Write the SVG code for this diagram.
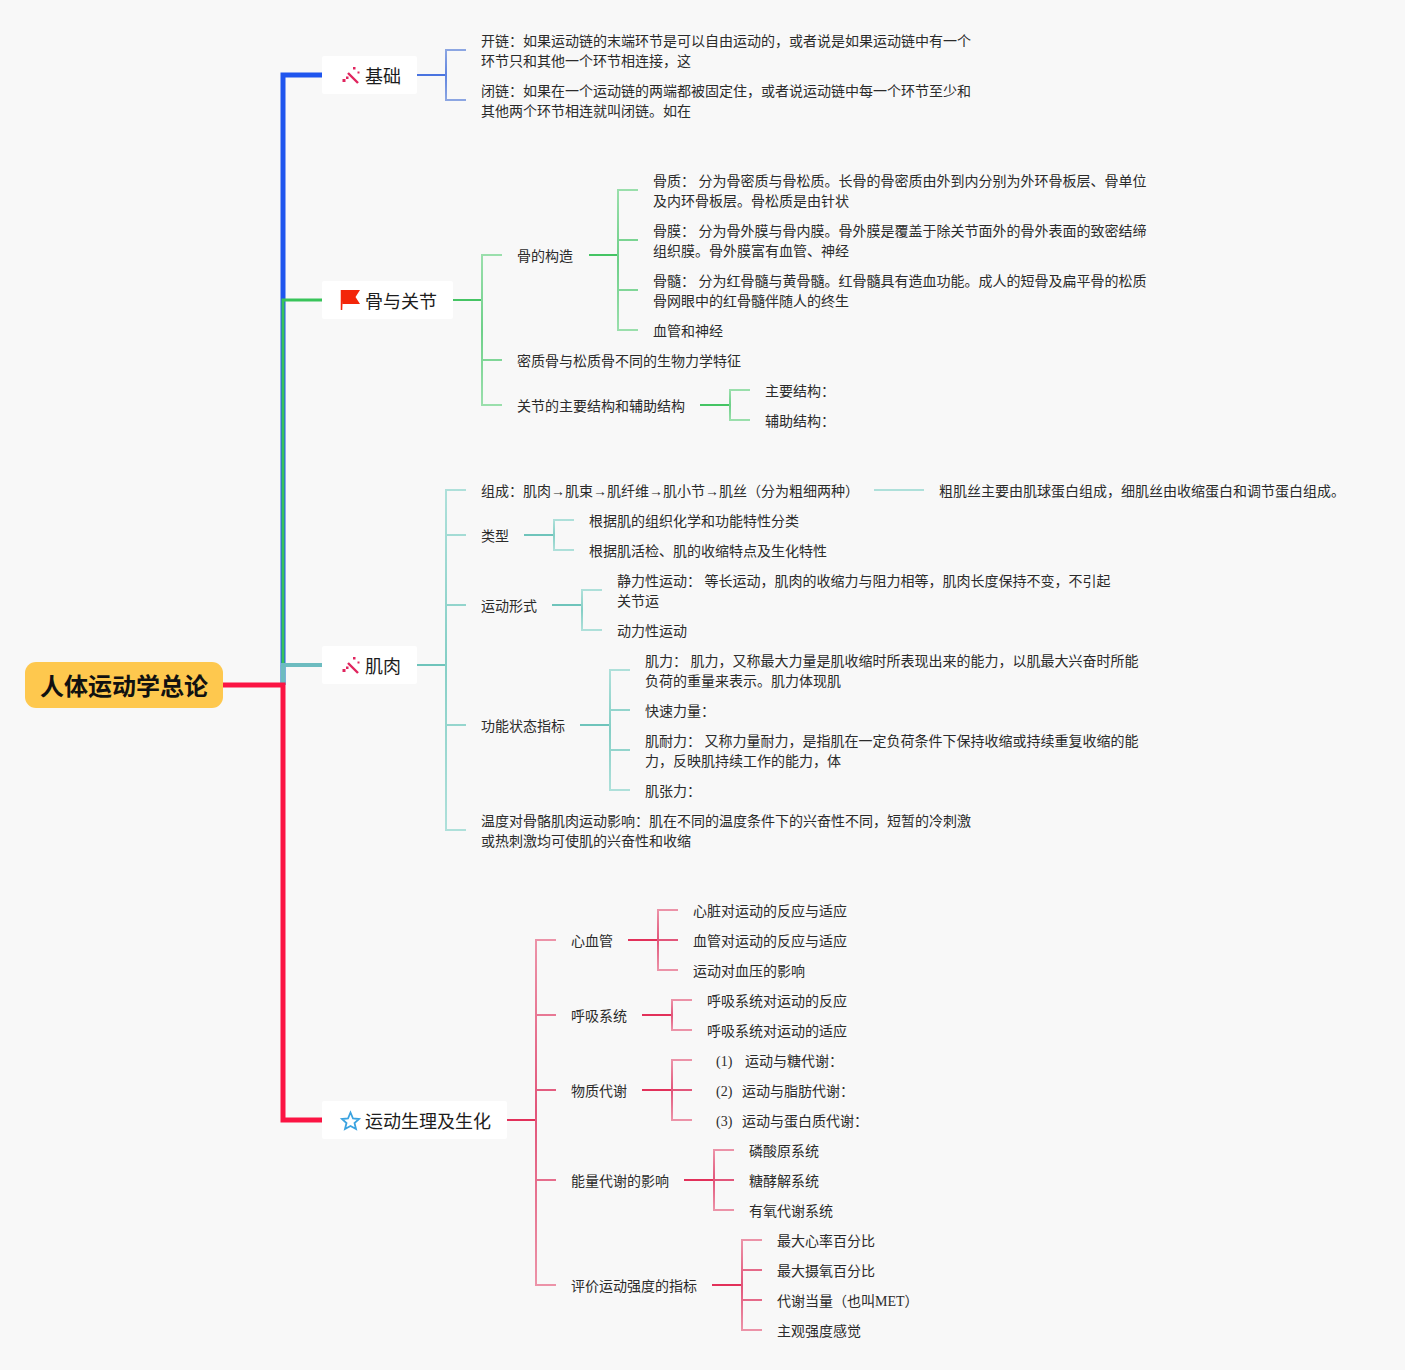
<svg xmlns="http://www.w3.org/2000/svg" width="1405" height="1370" viewBox="0 0 1405 1370">
<style>
text{font-family:"Liberation Serif","Noto Sans CJK SC",serif;font-size:14px;fill:#2b2b2b}
.t{font-family:"Liberation Sans","Noto Sans CJK SC",sans-serif;font-size:18px;fill:#1c1c1c}
.r{font-family:"Liberation Sans","Noto Sans CJK SC",sans-serif;font-size:24px;font-weight:700;fill:#111}
.box{fill:#fff}
path{fill:none}
.bl{stroke:#4a74e0;stroke-width:2}.bl2{stroke:url(#gb);stroke-width:2}
.gr{stroke:#45c464;stroke-width:2}.gr2{stroke:url(#gg);stroke-width:2}
.te{stroke:#6fc4bb;stroke-width:2}.te2{stroke:url(#gt);stroke-width:2}
.re{stroke:#e2315a;stroke-width:2}.re2{stroke:url(#gr);stroke-width:2}
</style>
<defs>
<linearGradient id="gb" x1="0" y1="0" x2="0" y2="1"><stop offset="0" stop-color="#8ca6e2"/><stop offset=".5" stop-color="#5f84e0"/><stop offset="1" stop-color="#8ca6e2"/></linearGradient>
<linearGradient id="gg" x1="0" y1="0" x2="0" y2="1"><stop offset="0" stop-color="#9adfac"/><stop offset=".5" stop-color="#6ed089"/><stop offset="1" stop-color="#9adfac"/></linearGradient>
<linearGradient id="gt" x1="0" y1="0" x2="0" y2="1"><stop offset="0" stop-color="#aee0da"/><stop offset=".5" stop-color="#85cfc6"/><stop offset="1" stop-color="#aee0da"/></linearGradient>
<linearGradient id="gr" x1="0" y1="0" x2="0" y2="1"><stop offset="0" stop-color="#ec93a8"/><stop offset=".5" stop-color="#e2557a"/><stop offset="1" stop-color="#ec93a8"/></linearGradient>
<g id="wand">
<path d="M6 6L16 16" stroke="#e0245e" stroke-width="2.400"/>
<rect x="0.500" y="12" width="3" height="3" fill="#e0245e"/><rect x="4" y="9.500" width="2.500" height="2.500" fill="#e0245e"/><rect x="11" y="0" width="2.500" height="2.500" fill="#e0245e"/><rect x="15.500" y="4.500" width="2" height="2" fill="#e0245e"/>
</g>
</defs>
<rect width="1405" height="1370" fill="#f8f8f8"/>
<g id="connectors">
<path d="M283 685V75H322" stroke="#1f55ee" stroke-width="5"/>
<path d="M283 665V300H322" stroke="#38c45a" stroke-width="3"/>
<path d="M283 682V665H322" stroke="#6dbcc0" stroke-width="4"/>
<path d="M283 665V685" stroke="#6dbcc0" stroke-width="5"/>
<path d="M223 685H283V1120H322" stroke="#fb1443" stroke-width="5"/>

<path class="bl" d="M417 75H446"/>
<path class="bl2" d="M466 50H446V100H466"/>

<path class="gr" d="M453 300H482"/>
<path class="gr2" d="M502 255H482V405H502M482 360H502"/>
<path class="gr" d="M589 255H618"/>
<path class="gr2" d="M638 190H618V330H638M618 240H638M618 290H638"/>
<path class="gr" d="M700 405H730"/>
<path class="gr2" d="M750 390H730V420H750"/>

<path class="te" d="M417 665H446"/>
<path class="te2" d="M466 490H446V830H466M446 535H466M446 605H466M446 725H466"/>
<path d="M874 490H924" stroke="#aee0da" stroke-width="2"/>
<path class="te" d="M524 535H554"/>
<path class="te2" d="M574 520H554V550H574"/>
<path class="te" d="M552 605H582"/>
<path class="te2" d="M602 590H582V630H602"/>
<path class="te" d="M580 725H610"/>
<path class="te2" d="M630 670H610V790H630M610 710H630M610 750H630"/>

<path class="re" d="M507 1120H536"/>
<path class="re2" d="M556 940H536V1285H556M536 1015H556M536 1090H556M536 1180H556"/>
<path class="re" d="M628 940H658"/>
<path class="re2" d="M678 910H658V970H678M658 940H678"/>
<path class="re" d="M642 1015H672"/>
<path class="re2" d="M692 1000H672V1030H692"/>
<path class="re" d="M642 1090H672"/>
<path class="re2" d="M692 1060H672V1120H692M672 1090H692"/>
<path class="re" d="M684 1180H714"/>
<path class="re2" d="M734 1150H714V1210H734M714 1180H734"/>
<path class="re" d="M712 1285H742"/>
<path class="re2" d="M762 1240H742V1330H762M742 1270H762M742 1300H762"/>
</g>
<g id="root"><rect x="25" y="662" width="198" height="46" rx="11" fill="#fec84e"/><text class="r" x="40" y="695">人体运动学总论</text></g>
<g id="n1"><rect class="box" x="322" y="56" width="95" height="38" rx="2"/><use href="#wand" x="342" y="67"/><text class="t" x="365" y="83">基础</text></g>
<g id="n2"><rect class="box" x="322" y="281" width="131" height="38" rx="2"/><path d="M341.500 290H360L355.500 297L360 304H342.500V310" style="fill:#f3260a"/><path d="M341.500 290V310" stroke="#f3260a" stroke-width="1.500"/><text class="t" x="365" y="308">骨与关节</text></g>
<g id="n3"><rect class="box" x="322" y="646" width="95" height="38" rx="2"/><use href="#wand" x="342" y="657"/><text class="t" x="365" y="673">肌肉</text></g>
<g id="n4"><rect class="box" x="322" y="1101" width="185" height="38" rx="2"/><path d="M350.500 1112.500L353 1118.500L359 1119L354.500 1123L356 1129L350.500 1126L345 1129L346.500 1123L342 1119L348 1118.500Z" stroke="#3ba3e0" stroke-width="1.800"/><text class="t" x="365" y="1128">运动生理及生化</text></g>
<g id="l1"><text x="481" y="46">开链：如果运动链的末端环节是可以自由运动的，或者说是如果运动链中有一个</text><text x="481" y="66">环节只和其他一个环节相连接，这</text></g>
<g id="l2"><text x="481" y="96">闭链：如果在一个运动链的两端都被固定住，或者说运动链中每一个环节至少和</text><text x="481" y="116">其他两个环节相连就叫闭链。如在</text></g>
<g id="b1"><text x="517" y="261">骨的构造</text></g>
<g id="b2"><text x="653" y="186">骨质：  分为骨密质与骨松质。长骨的骨密质由外到内分别为外环骨板层、骨单位</text><text x="653" y="206">及内环骨板层。骨松质是由针状</text></g>
<g id="b3"><text x="653" y="236">骨膜：  分为骨外膜与骨内膜。骨外膜是覆盖于除关节面外的骨外表面的致密结缔</text><text x="653" y="256">组织膜。骨外膜富有血管、神经</text></g>
<g id="b4"><text x="653" y="286">骨髓：  分为红骨髓与黄骨髓。红骨髓具有造血功能。成人的短骨及扁平骨的松质</text><text x="653" y="306">骨网眼中的红骨髓伴随人的终生</text></g>
<g id="b5"><text x="653" y="336">血管和神经</text></g>
<g id="b6"><text x="517" y="366">密质骨与松质骨不同的生物力学特征</text></g>
<g id="b7"><text x="517" y="411">关节的主要结构和辅助结构</text></g>
<g id="b8"><text x="765" y="396">主要结构：</text></g>
<g id="b9"><text x="765" y="426">辅助结构：</text></g>
<g id="m1"><text x="481" y="496">组成：肌肉→肌束→肌纤维→肌小节→肌丝（分为粗细两种）</text></g>
<g id="m2"><text x="939" y="496">粗肌丝主要由肌球蛋白组成，细肌丝由收缩蛋白和调节蛋白组成。</text></g>
<g id="m3"><text x="481" y="541">类型</text></g>
<g id="m4"><text x="589" y="526">根据肌的组织化学和功能特性分类</text></g>
<g id="m5"><text x="589" y="556">根据肌活检、肌的收缩特点及生化特性</text></g>
<g id="m6"><text x="481" y="611">运动形式</text></g>
<g id="m7"><text x="617" y="586">静力性运动：  等长运动，肌肉的收缩力与阻力相等，肌肉长度保持不变，不引起</text><text x="617" y="606">关节运</text></g>
<g id="m8"><text x="617" y="636">动力性运动</text></g>
<g id="m9"><text x="481" y="731">功能状态指标</text></g>
<g id="m10"><text x="645" y="666">肌力：  肌力，又称最大力量是肌收缩时所表现出来的能力，以肌最大兴奋时所能</text><text x="645" y="686">负荷的重量来表示。肌力体现肌</text></g>
<g id="m11"><text x="645" y="716">快速力量：</text></g>
<g id="m12"><text x="645" y="746">肌耐力：  又称力量耐力，是指肌在一定负荷条件下保持收缩或持续重复收缩的能</text><text x="645" y="766">力，反映肌持续工作的能力，体</text></g>
<g id="m13"><text x="645" y="796">肌张力：</text></g>
<g id="m14"><text x="481" y="826">温度对骨骼肌肉运动影响：肌在不同的温度条件下的兴奋性不同，短暂的冷刺激</text><text x="481" y="846">或热刺激均可使肌的兴奋性和收缩</text></g>
<g id="s1"><text x="571" y="946">心血管</text></g>
<g id="s2"><text x="693" y="916">心脏对运动的反应与适应</text></g>
<g id="s3"><text x="693" y="946">血管对运动的反应与适应</text></g>
<g id="s4"><text x="693" y="976">运动对血压的影响</text></g>
<g id="s5"><text x="571" y="1021">呼吸系统</text></g>
<g id="s6"><text x="707" y="1006">呼吸系统对运动的反应</text></g>
<g id="s7"><text x="707" y="1036">呼吸系统对运动的适应</text></g>
<g id="s8"><text x="571" y="1096">物质代谢</text></g>
<g id="s9"><text x="716" y="1066">(1)</text><text x="745" y="1066">运动与糖代谢：</text></g>
<g id="s10"><text x="716" y="1096">(2)</text><text x="742" y="1096">运动与脂肪代谢：</text></g>
<g id="s11"><text x="716" y="1126">(3)</text><text x="742" y="1126">运动与蛋白质代谢：</text></g>
<g id="s12"><text x="571" y="1186">能量代谢的影响</text></g>
<g id="s13"><text x="749" y="1156">磷酸原系统</text></g>
<g id="s14"><text x="749" y="1186">糖酵解系统</text></g>
<g id="s15"><text x="749" y="1216">有氧代谢系统</text></g>
<g id="s16"><text x="571" y="1291">评价运动强度的指标</text></g>
<g id="s17"><text x="777" y="1246">最大心率百分比</text></g>
<g id="s18"><text x="777" y="1276">最大摄氧百分比</text></g>
<g id="s19"><text x="777" y="1306">代谢当量（也叫MET）</text></g>
<g id="s20"><text x="777" y="1336">主观强度感觉</text></g>
</svg>
